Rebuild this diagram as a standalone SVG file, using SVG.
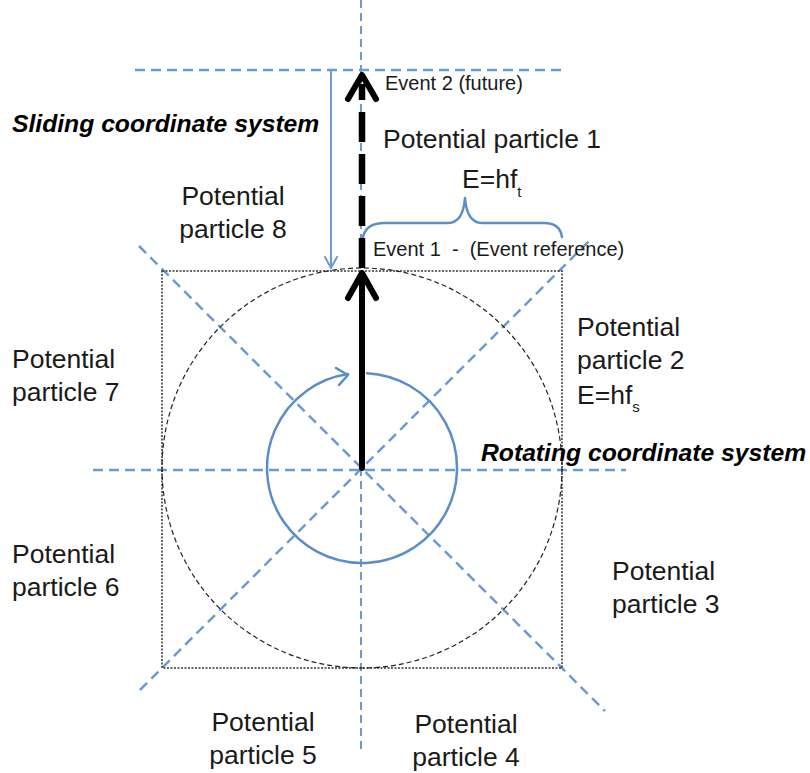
<svg xmlns="http://www.w3.org/2000/svg" width="810" height="773" viewBox="0 0 810 773">
<style>
.bg{fill:#ffffff}
.axis{fill:none;stroke:#6c9bd2;stroke-width:2.5;stroke-dasharray:10 6}
.vaxis{fill:none;stroke:#6c9bd2;stroke-width:2;stroke-dasharray:8 5}
.sq{fill:none;stroke:#333;stroke-width:1.5;stroke-dasharray:2 1.5}
.dc{fill:none;stroke:#222;stroke-width:1.2;stroke-dasharray:5 3}
.blue{fill:none;stroke:#5b8dc6;stroke-width:2.5;stroke-linecap:round;stroke-linejoin:round}
.thin{fill:none;stroke:#6c9bd2;stroke-width:2;stroke-linecap:round;stroke-linejoin:round}
.blk{fill:none;stroke:#000;stroke-width:6;stroke-linecap:round;stroke-linejoin:round}
.blkd{fill:none;stroke:#000;stroke-width:6.5;stroke-dasharray:30 12}
.lbl{font-family:"Liberation Sans",Arial,sans-serif;font-size:26.5px;fill:#1a1a1a}
.ev{font-family:"Liberation Sans",Arial,sans-serif;font-size:20px;fill:#1a1a1a}
.sys{font-family:"Liberation Sans",Arial,sans-serif;font-size:24.7px;font-weight:bold;font-style:italic;fill:#000}
.sub{font-size:15px}
</style>
<rect class="bg" x="0" y="0" width="810" height="773"/>
<g id="connectors">
  <line class="vaxis" x1="361" y1="0" x2="361" y2="750"/>
  <line class="axis" x1="135" y1="70" x2="567" y2="70"/>
  <line class="axis" x1="93" y1="470" x2="626" y2="470"/>
  <line class="axis" x1="139" y1="246" x2="605" y2="711"/>
  <line class="axis" x1="140" y1="690" x2="591" y2="239"/>
  <rect class="sq" x="162" y="271" width="400" height="397"/>
  <circle class="dc" cx="362" cy="468" r="200"/>
  <path class="blue" d="M367 373.13 A95 95 0 1 1 348 374.04"/>
  <polyline class="blue" points="336,368 348,375 339,385"/>
  <line class="thin" x1="331" y1="70" x2="331" y2="268"/>
  <polyline class="thin" points="325,257 331,268 337,257"/>
  <path class="blue" d="M363 237 Q366 223 385 223 L448 223 Q463 223 465 198 Q467 223 482 223 L544 223 Q560 223 562 237"/>
  <line class="blk" x1="362" y1="468" x2="362" y2="276"/>
  <polyline class="blk" points="348,298 362,273 376,298"/>
  <line class="blkd" x1="362" y1="268" x2="362" y2="84"/>
  <polyline class="blk" points="348,99 362,75 376,99"/>
</g>
<g id="event2"><text class="ev" x="385" y="90">Event 2 (future)</text></g>
<g id="event1"><text class="ev" x="373" y="256" xml:space="preserve">Event 1  -  (Event reference)</text></g>
<g id="sliding"><text class="sys" x="12" y="132">Sliding coordinate system</text></g>
<g id="rotating"><text class="sys" x="481" y="461">Rotating coordinate system</text></g>
<g id="p1">
  <text class="lbl" x="492" y="148" text-anchor="middle">Potential particle 1</text>
  <text class="lbl" x="462" y="188">E=hf<tspan class="sub" dy="9">t</tspan></text>
</g>
<g id="p2">
  <text class="lbl" x="577" y="336">Potential</text>
  <text class="lbl" x="577" y="369">particle 2</text>
  <text class="lbl" x="577" y="404">E=hf<tspan class="sub" dy="8">s</tspan></text>
</g>
<g id="p3">
  <text class="lbl" x="612" y="580">Potential</text>
  <text class="lbl" x="612" y="613">particle 3</text>
</g>
<g id="p4">
  <text class="lbl" x="466" y="733" text-anchor="middle">Potential</text>
  <text class="lbl" x="466" y="766" text-anchor="middle">particle 4</text>
</g>
<g id="p5">
  <text class="lbl" x="263" y="731" text-anchor="middle">Potential</text>
  <text class="lbl" x="263" y="764" text-anchor="middle">particle 5</text>
</g>
<g id="p6">
  <text class="lbl" x="12" y="563">Potential</text>
  <text class="lbl" x="12" y="596">particle 6</text>
</g>
<g id="p7">
  <text class="lbl" x="12" y="368">Potential</text>
  <text class="lbl" x="12" y="401">particle 7</text>
</g>
<g id="p8">
  <text class="lbl" x="233" y="205" text-anchor="middle">Potential</text>
  <text class="lbl" x="233" y="238" text-anchor="middle">particle 8</text>
</g>
</svg>
